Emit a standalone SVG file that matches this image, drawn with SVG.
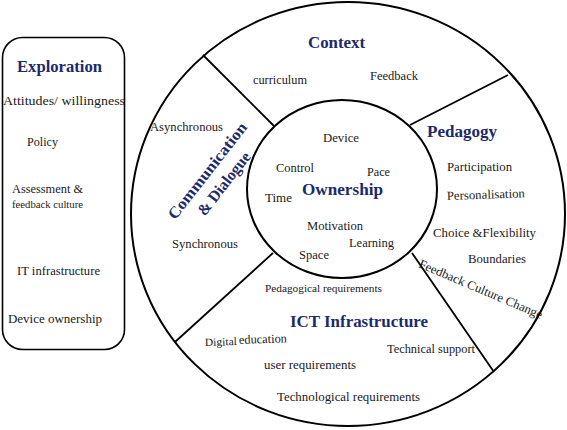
<svg xmlns="http://www.w3.org/2000/svg" width="567" height="430" viewBox="0 0 567 430">
<style>
.t{font-size:12.5px;fill:#1a1a1a}
.s{font-size:11px}
.h{font-size:16px;font-weight:bold;fill:#1B2A6B}
.shape{fill:#fff;stroke:#000;stroke-width:2}
.ln{stroke:#000;stroke-width:1.8;fill:none}
</style>
<rect width="567" height="430" fill="#fff"/>
<g font-family="'Liberation Serif', 'Times New Roman', 'Liberation Sans', sans-serif" lengthAdjust="spacingAndGlyphs">
<g id="exploration">
<rect x="2.5" y="37.5" width="122" height="312" rx="20" ry="20" fill="#fff" stroke="#000" stroke-width="1.6"/>
<text class="h" x="17" y="72" textLength="85" lengthAdjust="spacingAndGlyphs">Exploration</text>
<text class="t" x="3" y="105" textLength="122" lengthAdjust="spacingAndGlyphs">Attitudes/ willingness</text>
<text class="t" x="27" y="146" textLength="31" lengthAdjust="spacingAndGlyphs">Policy</text>
<text class="t" x="12" y="193" textLength="71" lengthAdjust="spacingAndGlyphs">Assessment &amp;</text>
<text class="t s" x="12" y="208" textLength="71" lengthAdjust="spacingAndGlyphs">feedback culture</text>
<text class="t" x="17" y="275" textLength="83" lengthAdjust="spacingAndGlyphs">IT infrastructure</text>
<text class="t" x="8" y="323" textLength="94" lengthAdjust="spacingAndGlyphs">Device ownership</text>
</g>
<g id="outer">
<ellipse class="shape" cx="348" cy="214" rx="217" ry="212"/>
</g>
<g id="connectors">
<line class="ln" x1="203" y1="55" x2="274" y2="126"/>
<line class="ln" x1="410" y1="125" x2="508" y2="75"/>
<line class="ln" x1="273" y1="253" x2="175" y2="342"/>
<line class="ln" x1="412" y1="253" x2="494" y2="372"/>
</g>
<g id="context">
<text class="h" x="308" y="48" textLength="57" lengthAdjust="spacingAndGlyphs">Context</text>
<text class="t" x="253" y="84" textLength="54" lengthAdjust="spacingAndGlyphs">curriculum</text>
<text class="t" x="370" y="80" textLength="48" lengthAdjust="spacingAndGlyphs">Feedback</text>
</g>
<g id="communication">
<text class="t" x="150" y="131" textLength="73" lengthAdjust="spacingAndGlyphs">Asynchronous</text>
<g transform="translate(215.5,177) rotate(-52)">
<text class="h" x="-59" y="-5" textLength="118" lengthAdjust="spacingAndGlyphs">Communication</text>
<text class="h" x="-38" y="16" textLength="76" lengthAdjust="spacingAndGlyphs">&amp; Dialogue</text>
</g>
<text class="t" x="172" y="248" textLength="66" lengthAdjust="spacingAndGlyphs">Synchronous</text>
</g>
<g id="pedagogy">
<text class="h" x="427" y="137" textLength="70" lengthAdjust="spacingAndGlyphs">Pedagogy</text>
<text class="t" x="447" y="171" textLength="65" lengthAdjust="spacingAndGlyphs">Participation</text>
<text class="t" x="447" y="200" transform="rotate(-2 447 200)" textLength="78" lengthAdjust="spacingAndGlyphs">Personalisation</text>
<text class="t" x="433" y="237" textLength="103" lengthAdjust="spacingAndGlyphs">Choice &amp;Flexibility</text>
<text class="t" x="468" y="263" textLength="58" lengthAdjust="spacingAndGlyphs">Boundaries</text>
<text class="t" x="418" y="267" transform="rotate(23 418 267)" textLength="133" lengthAdjust="spacingAndGlyphs">Feedback Culture Change</text>
</g>
<g id="ict">
<text class="t s" x="265" y="292" textLength="117" lengthAdjust="spacingAndGlyphs">Pedagogical requirements</text>
<text class="h" x="290" y="327" textLength="138" lengthAdjust="spacingAndGlyphs">ICT Infrastructure</text>
<text class="t s" x="205" y="346" transform="rotate(-2 205 346)" textLength="32" lengthAdjust="spacingAndGlyphs">Digital</text>
<text class="t" x="239" y="344" transform="rotate(-2 239 344)" textLength="48" lengthAdjust="spacingAndGlyphs">education</text>
<text class="t" x="387" y="353" style="font-size:12px" textLength="88" lengthAdjust="spacingAndGlyphs">Technical support</text>
<text class="t" x="264" y="369" textLength="92" lengthAdjust="spacingAndGlyphs">user requirements</text>
<text class="t" x="277" y="401" textLength="143" lengthAdjust="spacingAndGlyphs">Technological requirements</text>
</g>
<g id="ownership">
<ellipse class="shape" cx="342" cy="189" rx="95" ry="89"/>
<text class="h" x="302" y="195" style="font-size:17px" textLength="81" lengthAdjust="spacingAndGlyphs">Ownership</text>
<text class="t" x="323" y="142" textLength="36" lengthAdjust="spacingAndGlyphs">Device</text>
<text class="t" x="276" y="172" textLength="38" lengthAdjust="spacingAndGlyphs">Control</text>
<text class="t" x="367" y="176" textLength="23" lengthAdjust="spacingAndGlyphs">Pace</text>
<text class="t" x="265" y="202" textLength="27" lengthAdjust="spacingAndGlyphs">Time</text>
<text class="t" x="307" y="230" textLength="56" lengthAdjust="spacingAndGlyphs">Motivation</text>
<text class="t" x="349" y="247" textLength="45" lengthAdjust="spacingAndGlyphs">Learning</text>
<text class="t" x="299" y="259" textLength="30" lengthAdjust="spacingAndGlyphs">Space</text>
</g>
</g>
</svg>
